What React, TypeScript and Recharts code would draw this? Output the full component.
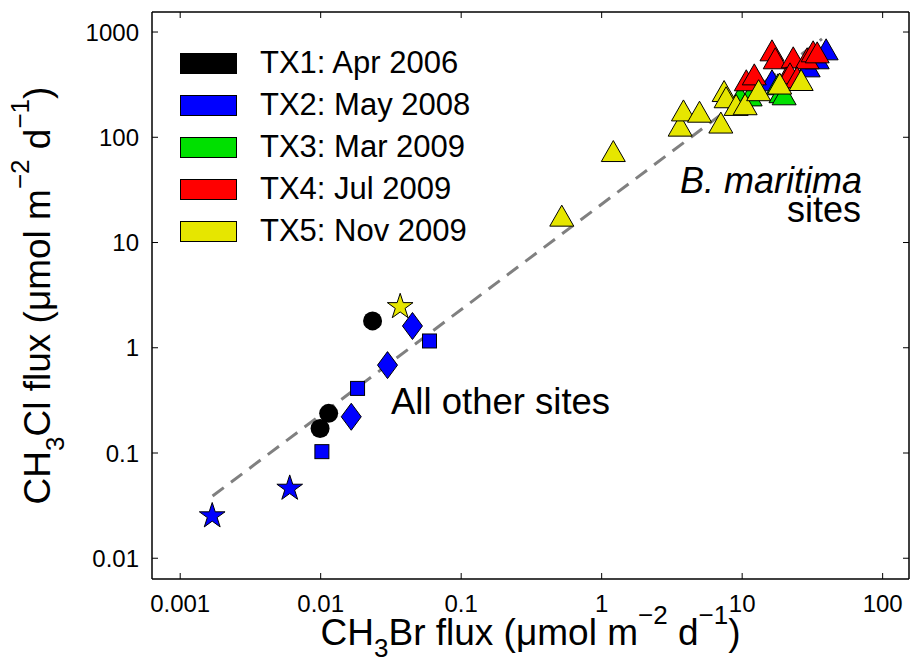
import { ScatterChart, Scatter, XAxis, YAxis, Legend, Label, Customized } from 'recharts';

const FONT = '"Liberation Sans", Arial, Helvetica, sans-serif';

// axes
const xTicks = [0.001, 0.01, 0.1, 1, 10, 100];
const yTicks = [0.01, 0.1, 1, 10, 100, 1000];
const xDomain = [0.00063, 154];
const yDomain = [0.00635, 1550];

const campaigns = [
    { name: 'TX1: Apr 2006', color: '#000000' },
    { name: 'TX2: May 2008', color: '#0000ff' },
    { name: 'TX3: Mar 2009', color: '#00e000' },
    { name: 'TX4: Jul 2009', color: '#ff0000' },
    { name: 'TX5: Nov 2009', color: '#e6e600' },
];

// regression line end points
const fitLine = [{ x: 0.0017, y: 0.039 }, { x: 37, y: 860 }];

const tx1Circles = [{ x: 0.0234, y: 1.8 }, { x: 0.0114, y: 0.238 }, { x: 0.0099, y: 0.171 }];
const tx2Squares = [{ x: 0.0595, y: 1.16 }, { x: 0.0183, y: 0.411 }, { x: 0.0102, y: 0.103 }];
const tx2Diamonds = [{ x: 0.045, y: 1.61 }, { x: 0.0299, y: 0.684 }, { x: 0.0165, y: 0.221 }];
const tx2Stars = [{ x: 0.00169, y: 0.0252 }, { x: 0.00602, y: 0.0461 }];
const tx2Triangles = [{ x: 39.6, y: 685 }, { x: 29.5, y: 472 }, { x: 16.3, y: 348 }, { x: 34.2, y: 563 }];
const tx3Triangles = [
    { x: 9.68, y: 245 }, { x: 11.4, y: 250 }, { x: 18.0, y: 319 }, { x: 18.9, y: 268 }, { x: 19.9, y: 256 },
];
const tx4Triangles = [
    { x: 16.3, y: 670 }, { x: 17.2, y: 563 }, { x: 23.1, y: 575 }, { x: 29.0, y: 563 },
    { x: 32.0, y: 656 }, { x: 34.2, y: 641 }, { x: 10.7, y: 348 }, { x: 12.2, y: 396 },
    { x: 20.6, y: 371 }, { x: 21.9, y: 405 }, { x: 24.6, y: 371 },
];
const tx5Star = [{ x: 0.0368, y: 2.45 }];
const tx5Triangles = [
    { x: 0.52, y: 18.0 }, { x: 1.21, y: 74 }, { x: 3.62, y: 129 }, { x: 3.82, y: 180 },
    { x: 4.97, y: 175 }, { x: 7.05, y: 138 }, { x: 7.44, y: 275 }, { x: 7.69, y: 240 },
    { x: 9.06, y: 203 }, { x: 10.5, y: 206 }, { x: 13.1, y: 280 }, { x: 18.5, y: 324 }, { x: 26.3, y: 350 },
];

const TICK = 6;
const fmt = (v: number) => String(v);

// marker shapes
const Circle = ({ cx = 0, cy = 0, fill }: any) => <circle cx={cx} cy={cy} r={9.5} fill={fill} />;
const Square = ({ cx = 0, cy = 0, fill }: any) => (
    <rect x={cx - 7} y={cy - 7} width={14} height={14} fill={fill} stroke="#000" strokeWidth={1} />
);
const Diamond = ({ cx = 0, cy = 0, fill }: any) => (
    <path d={`M${cx},${cy - 13.5}L${cx + 10},${cy}L${cx},${cy + 13.5}L${cx - 10},${cy}Z`} fill={fill} stroke="#000" strokeWidth={1} />
);
const Triangle = ({ cx = 0, cy = 0, fill }: any) => (
    <path d={`M${cx},${cy - 10.5}L${cx + 12},${cy + 10.5}L${cx - 12},${cy + 10.5}Z`} fill={fill} stroke="#000" strokeWidth={1} />
);
const Star = ({ cx = 0, cy = 0, fill }: any) => {
    const R = 13.5;
    const r = R * 0.382;
    const pts: string[] = [];
    for (let i = 0; i < 10; i++) {
        const a = -Math.PI / 2 + (i * Math.PI) / 5;
        const rad = i % 2 === 0 ? R : r;
        pts.push(`${cx + rad * Math.cos(a)},${cy + rad * Math.sin(a)}`);
    }
    return <polygon points={pts.join(' ')} fill={fill} stroke="#000" strokeWidth={1} />;
};
const NoDot = () => <g />;

// ticks (MATLAB style, pointing inward)
const BottomTick = ({ x, y, payload }: any) => (
    <g>
        <line x1={x} y1={y} x2={x} y2={y - TICK} stroke="#000" />
        <text x={x} y={y + 33} textAnchor="middle" fontSize={24} fontFamily={FONT} fill="#000">{fmt(payload.value)}</text>
    </g>
);
const TopTick = ({ x, y }: any) => <line x1={x} y1={y} x2={x} y2={y + TICK} stroke="#000" />;
const LeftTick = ({ x, y, payload }: any) => (
    <g>
        <line x1={x} y1={y} x2={x + TICK} y2={y} stroke="#000" />
        <text x={x - 13} y={y} dy="0.36em" textAnchor="end" fontSize={24} fontFamily={FONT} fill="#000">{fmt(payload.value)}</text>
    </g>
);
const RightTick = ({ x, y }: any) => <line x1={x} y1={y} x2={x - TICK} y2={y} stroke="#000" />;

const XTitle = ({ viewBox }: any) => (
    <text x={viewBox.x + viewBox.width / 2} y={viewBox.y + 66} textAnchor="middle" fontSize={37} fontFamily={FONT} fill="#000">
        CH<tspan fontSize={26} dy={12}>3</tspan>
        <tspan dy={-12}>Br flux (μmol m</tspan>
        <tspan fontSize={26} dy={-21}>−2</tspan>
        <tspan dy={21}> d</tspan>
        <tspan fontSize={26} dy={-21}>−1</tspan>
        <tspan dy={21}>)</tspan>
    </text>
);

const YTitle = ({ viewBox }: any) => {
    const cx = 50;
    const cy = viewBox.y + viewBox.height / 2;
    return (
        <text x={cx} y={cy} transform={`rotate(-90, ${cx}, ${cy})`} textAnchor="middle" fontSize={37} fontFamily={FONT} fill="#000">
            CH<tspan fontSize={26} dy={14}>3</tspan>
            <tspan dy={-14}>Cl flux (μmol m</tspan>
            <tspan fontSize={26} dy={-21}>−2</tspan>
            <tspan dy={21}> d</tspan>
            <tspan fontSize={26} dy={-21}>−1</tspan>
            <tspan dy={21}>)</tspan>
        </text>
    );
};

const Notes = () => (
    <g fontFamily={FONT} fill="#000">
        <text x={391} y={414} fontSize={36.5}>All other sites</text>
        <text x={862} y={193} fontSize={36} textAnchor="end" fontStyle="italic">B. maritima</text>
        <text x={861} y={222} fontSize={36} textAnchor="end">sites</text>
    </g>
);

const LegendBox = () => (
    <div style={{ fontFamily: FONT, fontSize: 31, color: '#000' }}>
        {campaigns.map(c => (
            <div key={c.name} style={{ display: 'flex', alignItems: 'center', height: 42, lineHeight: '42px', whiteSpace: 'nowrap' }}>
                <span style={{ width: 57, height: 21, background: c.color, border: '1px solid #000', boxSizing: 'border-box', marginRight: 23 }} />
                <span>{c.name}</span>
            </div>
        ))}
    </div>
);

const App = () => {
    return (
        <div style={{ position: 'absolute', left: 0, top: 0, background: '#fff' }}>
            <ScatterChart width={910} height={663} margin={{ top: 11, right: 0, bottom: 0, left: 0 }}>
                <XAxis type="number" dataKey="x" scale="log" domain={xDomain} ticks={xTicks} allowDataOverflow
                    height={84} tickSize={0} tickMargin={0} tickLine={false} tick={<BottomTick />}
                    axisLine={{ stroke: '#000', strokeWidth: 1.5 }}>
                    <Label content={<XTitle />} />
                </XAxis>
                <XAxis xAxisId="top" orientation="top" type="number" dataKey="x" scale="log" domain={xDomain} ticks={xTicks}
                    allowDataOverflow height={1} tickSize={0} tickMargin={0} tickLine={false} tick={<TopTick />}
                    axisLine={{ stroke: '#000', strokeWidth: 1.5 }} />
                <YAxis type="number" dataKey="y" scale="log" domain={yDomain} ticks={yTicks} allowDataOverflow
                    width={152} tickSize={0} tickMargin={0} tickLine={false} tick={<LeftTick />}
                    axisLine={{ stroke: '#000', strokeWidth: 1.5 }}>
                    <Label content={<YTitle />} />
                </YAxis>
                <YAxis yAxisId="right" orientation="right" type="number" dataKey="y" scale="log" domain={yDomain} ticks={yTicks}
                    allowDataOverflow width={1} tickSize={0} tickMargin={0} tickLine={false} tick={<RightTick />}
                    axisLine={{ stroke: '#000', strokeWidth: 1.5 }} />
                <Legend layout="vertical" align="center" verticalAlign="middle" content={<LegendBox />}
                    wrapperStyle={{ left: 180, top: 42, width: 320 }} />

                {/* fit line sits on the mirrored axes (same domains) so the box frame is drawn */}
                <Scatter data={fitLine} xAxisId="top" yAxisId="right" fill="#808080" shape={<NoDot />} isAnimationActive={false}
                    line={{ stroke: '#808080', strokeWidth: 3, strokeDasharray: '14 9' }} />
                <Scatter data={tx1Circles} fill="#000000" shape={<Circle />} isAnimationActive={false} />
                <Scatter data={tx2Squares} fill="#0000ff" shape={<Square />} isAnimationActive={false} />
                <Scatter data={tx2Diamonds} fill="#0000ff" shape={<Diamond />} isAnimationActive={false} />
                <Scatter data={tx2Stars} fill="#0000ff" shape={<Star />} isAnimationActive={false} />
                <Scatter data={tx2Triangles} fill="#0000ff" shape={<Triangle />} isAnimationActive={false} />
                <Scatter data={tx3Triangles} fill="#00e000" shape={<Triangle />} isAnimationActive={false} />
                <Scatter data={tx4Triangles} fill="#ff0000" shape={<Triangle />} isAnimationActive={false} />
                <Scatter data={tx5Star} fill="#e6e600" shape={<Star />} isAnimationActive={false} />
                <Scatter data={tx5Triangles} fill="#e6e600" shape={<Triangle />} isAnimationActive={false} />
                <Customized component={Notes} />
            </ScatterChart>
        </div>
    );
};

export default App;
